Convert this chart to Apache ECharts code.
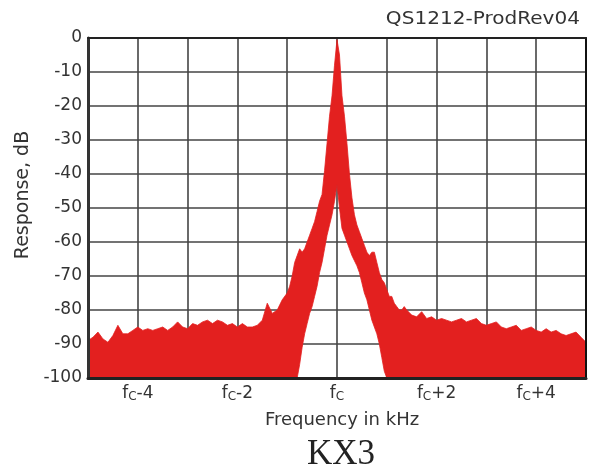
<!DOCTYPE html>
<html>
<head>
<meta charset="utf-8">
<script src="https://cdn.jsdelivr.net/npm/echarts@6/dist/echarts.min.js"></script>
<style>
html,body{margin:0;padding:0;background:#fff;}
#chart{width:597px;height:476px;}
</style>
</head>
<body>
<div id="chart"></div>
<script>
// Frequency offsets from fc (kHz)
const freq = [
  -5, -4.9, -4.8, -4.7, -4.6, -4.5, -4.4, -4.3, -4.2, -4.1,
  -4, -3.9, -3.8, -3.7, -3.6, -3.5, -3.4, -3.3, -3.2, -3.1,
  -3, -2.9, -2.8, -2.7, -2.6, -2.5, -2.4, -2.3, -2.2, -2.1,
  -2, -1.9, -1.8, -1.7, -1.6, -1.5, -1.4, -1.3, -1.2, -1.1,
  -1,
  -0.95, -0.9, -0.85, -0.8, -0.75, -0.7, -0.65, -0.6, -0.55, -0.5,
  -0.45, -0.4, -0.35, -0.3, -0.25, -0.2, -0.15, -0.1, -0.05,
  0,
  0.05, 0.1, 0.15, 0.2, 0.25, 0.3, 0.35, 0.4, 0.45, 0.5,
  0.55, 0.6, 0.65, 0.7, 0.75, 0.8, 0.85, 0.9, 0.95, 1,
  1.05, 1.1, 1.15, 1.2, 1.25, 1.3, 1.35,
  1.4, 1.5, 1.6, 1.7, 1.8, 1.9, 2, 2.1, 2.2, 2.3,
  2.4, 2.5, 2.6, 2.7, 2.8, 2.9, 3, 3.1, 3.2, 3.3,
  3.4, 3.5, 3.6, 3.7, 3.8, 3.9, 4, 4.1, 4.2, 4.3,
  4.4, 4.5, 4.6, 4.7, 4.8, 4.9, 5
];
// Upper envelope of the noisy response (dB)
const upper = [
  -89, -88, -86.5, -88.5, -89.5, -87.5, -84.5, -87, -87, -86,
  -85, -86, -85.5, -86, -85.5, -85, -86, -85, -83.5, -85,
  -85.5, -84, -84.5, -83.5, -83, -84, -83, -83.5, -84.5, -84,
  -85, -84, -85, -85, -84.5, -83, -78, -81, -80, -77,
  -75,
  -73, -70, -66, -64, -62, -63, -62, -60, -58, -56,
  -54, -51, -48, -46, -39, -31, -23, -17, -8,
  -0.5,
  -5, -17, -23, -31, -40, -47, -52, -55, -57, -59,
  -61, -63, -64, -63, -63, -66, -69, -71, -72, -74,
  -76, -76, -78, -79, -80, -80, -79,
  -80, -81.5, -82, -80.5, -82.5, -82, -83, -82.5, -83, -83.5,
  -83, -82.5, -83.5, -83, -82.5, -84, -84.5, -84, -83.5, -85,
  -85.5, -85, -84.5, -86, -85.5, -85, -86, -86.5, -85.5, -86.5,
  -86, -87, -87.5, -87, -86.5, -88, -89.5
];
// Lower envelope of the noisy response (dB)
const lower = [
  -100, -100, -100, -100, -100, -100, -100, -100, -100, -100,
  -100, -100, -100, -100, -100, -100, -100, -100, -100, -100,
  -100, -100, -100, -100, -100, -100, -100, -100, -100, -100,
  -100, -100, -100, -100, -100, -100, -100, -100, -100, -100,
  -100,
  -100, -100, -100, -100, -96, -91, -87, -84, -81, -79,
  -76, -73, -69, -66, -62, -58, -55, -52, -48,
  -43,
  -50, -56, -58, -60, -62, -64, -65.5, -67, -69, -72,
  -75, -77, -80, -83, -85, -87, -90, -94, -98, -100,
  -100, -100, -100, -100, -100, -100, -100,
  -100, -100, -100, -100, -100, -100, -100, -100, -100, -100,
  -100, -100, -100, -100, -100, -100, -100, -100, -100, -100,
  -100, -100, -100, -100, -100, -100, -100, -100, -100, -100,
  -100, -100, -100, -100, -100, -100, -100
];
const xTickValues = [-4, -2, 0, 2, 4];
const xTickSuffix = ['-4', '-2', '', '+2', '+4'];

const FONT = 'DejaVu Sans';
const RED = '#e3201f';

const chart = echarts.init(document.getElementById('chart'), null, {renderer: 'canvas'});

const bandData = freq.map((f, i) => [f, upper[i], lower[i]]);

const borderAxisX = (pos, w, color) => ({
  type: 'value', min: -5, max: 5, position: pos, z: 10,
  axisLine: {show: true, onZero: false, lineStyle: {color: color, width: w}},
  axisTick: {show: false}, axisLabel: {show: false}, splitLine: {show: false}
});
const borderAxisY = (pos, w, color) => ({
  type: 'value', min: -100, max: 0, position: pos, z: 10,
  axisLine: {show: true, onZero: false, lineStyle: {color: color, width: w}},
  axisTick: {show: false}, axisLabel: {show: false}, splitLine: {show: false}
});

function renderBand(params, api) {
  if (params.dataIndex !== 0) return null;
  const pts = [];
  for (let i = 0; i < freq.length; i++) pts.push(api.coord([freq[i], upper[i]]));
  for (let i = freq.length - 1; i >= 0; i--) pts.push(api.coord([freq[i], lower[i]]));
  return {
    type: 'polygon',
    shape: {points: pts},
    style: {fill: RED, stroke: RED, lineWidth: 0.8, lineJoin: 'miter'}
  };
}

chart.setOption({
  animation: false,
  backgroundColor: '#ffffff',
  grid: {left: 88, right: 11, top: 38, bottom: 98, containLabel: false},
  graphic: [
    {type: 'text', x: 580, y: 20, scaleX: 1.18, silent: true,
     style: {text: 'QS1212-ProdRev04', font: '17px "DejaVu Sans"', fill: '#333',
             align: 'right', verticalAlign: 'middle'}},
    {type: 'text', x: 341, y: 455, silent: true,
     style: {text: 'KX3', font: '35px "Liberation Serif"', fill: '#222',
             align: 'center', verticalAlign: 'middle'}}
  ],
  xAxis: [
    {
      type: 'value', min: -5, max: 5, interval: 1, position: 'bottom', z: 0,
      name: 'Frequency in kHz', nameLocation: 'middle', nameGap: 33,
      nameTextStyle: {fontFamily: FONT, fontSize: 18, color: '#333', padding: [0, 0, 0, 10]},
      axisLine: {show: false}, axisTick: {show: false},
      axisLabel: {
        margin: 7, color: '#333',
        formatter: function (v) {
          const k = xTickValues.indexOf(v);
          if (k < 0) return '';
          return '{f|f}{c|C}' + (xTickSuffix[k] ? '{t|' + xTickSuffix[k] + '}' : '');
        },
        rich: {
          f: {fontFamily: FONT, fontSize: 17, color: '#333', lineHeight: 18, verticalAlign: 'top'},
          c: {fontFamily: FONT, fontSize: 12, color: '#333', lineHeight: 12, verticalAlign: 'bottom', padding: [5, 0, 0, 0]},
          t: {fontFamily: FONT, fontSize: 17, color: '#333', lineHeight: 18, verticalAlign: 'top'}
        }
      },
      splitLine: {show: true, lineStyle: {color: '#444', width: 1.6}}
    },
    borderAxisX('bottom', 3, '#222'),
    borderAxisX('top', 2, '#222')
  ],
  yAxis: [
    {
      type: 'value', min: -100, max: 0, interval: 10, position: 'left', z: 0,
      name: 'Response, dB', nameLocation: 'middle', nameGap: 44, nameRotate: 90,
      nameTextStyle: {fontFamily: FONT, fontSize: 19, color: '#333', padding: [0, 0, 0, 26]},
      axisLine: {show: false}, axisTick: {show: false},
      axisLabel: {margin: 6, fontFamily: FONT, fontSize: 17, color: '#333'},
      splitLine: {show: true, lineStyle: {color: '#444', width: 1.6}}
    },
    borderAxisY('left', 3, '#333'),
    borderAxisY('right', 2, '#111')
  ],
  series: [
    {
      name: 'response', type: 'custom', xAxisIndex: 0, yAxisIndex: 0,
      data: bandData, encode: {x: 0, y: [1, 2]},
      renderItem: renderBand, silent: true, clip: true, z: 3
    }
  ]
});
</script>
</body>
</html>
